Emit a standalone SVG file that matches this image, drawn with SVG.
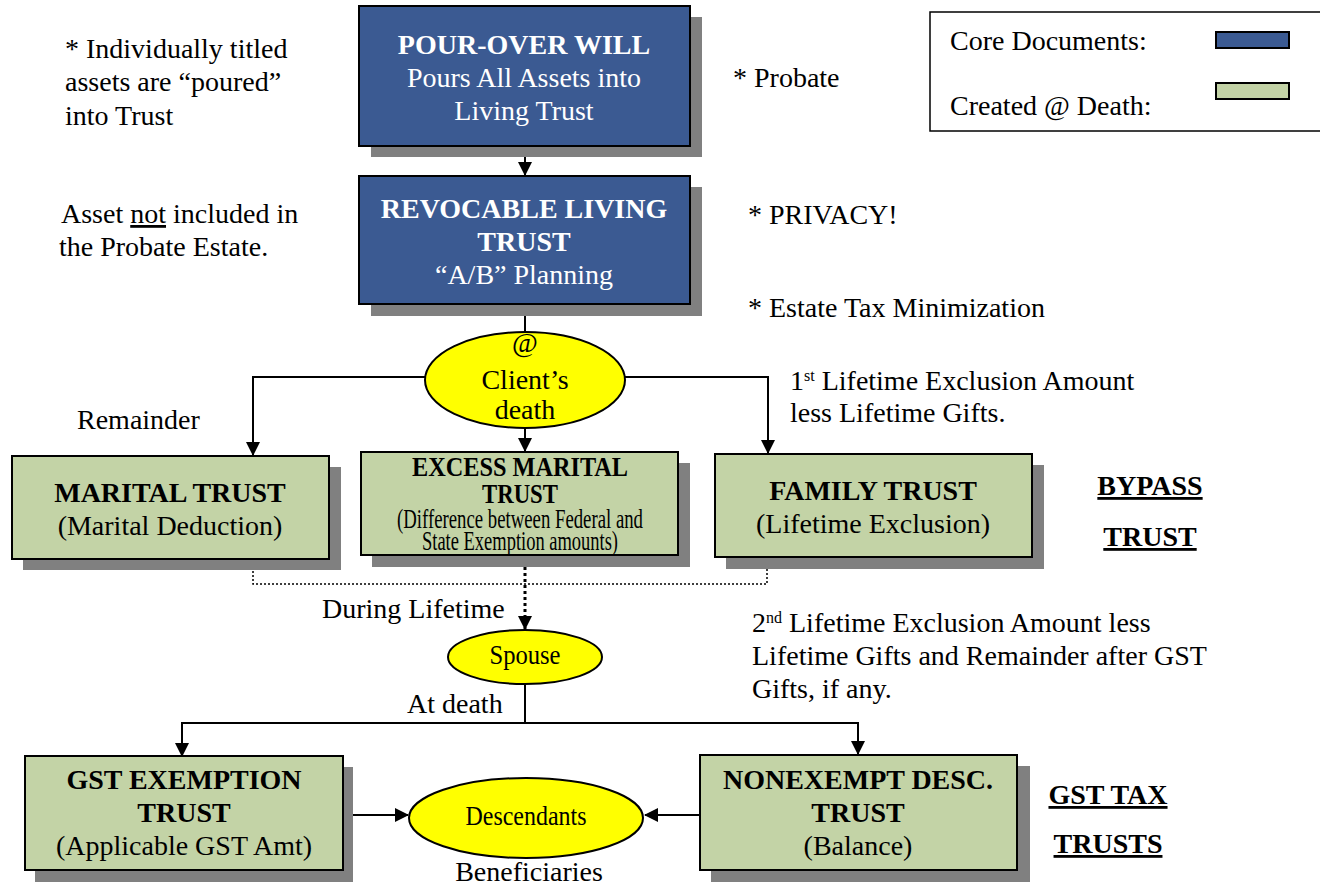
<svg xmlns="http://www.w3.org/2000/svg" width="1320" height="887" viewBox="0 0 1320 887">
<style>
text{font-family:"Liberation Serif","Times New Roman",serif;fill:#000;font-size:28px}
.w{fill:#fff}
.b{font-weight:bold}
.c{text-anchor:middle}
.blue{fill:#3B5A92;stroke:#000;stroke-width:2}
.green{fill:#C3D3A6;stroke:#000;stroke-width:2}
.sh{fill:#808080}
.ell{fill:#FFFF00;stroke:#000;stroke-width:2}
.ln{fill:none;stroke:#000;stroke-width:2}
.dot{fill:none;stroke:#000;stroke-width:1.5;stroke-dasharray:2 2}
</style>
<defs>
<marker id="ahb" markerWidth="14" markerHeight="14" refX="13" refY="7" orient="auto" markerUnits="userSpaceOnUse" viewBox="0 0 14 14">
<path d="M0,0 L14,7 L0,14 z" fill="#000"/>
</marker>
</defs>

<g id="connectors">
<line class="ln" x1="525" y1="146" x2="525" y2="175" marker-end="url(#ahb)"/>
<line class="ln" x1="525" y1="304" x2="525" y2="333"/>
<polyline class="ln" points="425,377 253,377 253,455" marker-end="url(#ahb)"/>
<polyline class="ln" points="625,377 768,377 768,453" marker-end="url(#ahb)"/>
<line class="ln" x1="525" y1="428" x2="525" y2="451" marker-end="url(#ahb)"/>
<polyline class="dot" points="253,559 253,584 767,584 767,557"/>
<line x1="525" y1="555" x2="525" y2="629" stroke="#000" stroke-width="3" stroke-dasharray="3 3" marker-end="url(#ahb)"/>
<line class="ln" x1="525" y1="684" x2="525" y2="723"/>
<polyline class="ln" points="182,723 858,723"/>
<line class="ln" x1="182" y1="722" x2="182" y2="756" marker-end="url(#ahb)"/>
<line class="ln" x1="858" y1="722" x2="858" y2="754" marker-end="url(#ahb)"/>
<line class="ln" x1="343" y1="815" x2="408" y2="815" marker-end="url(#ahb)"/>
<line class="ln" x1="700" y1="815" x2="645" y2="815" marker-end="url(#ahb)"/>
</g>

<g id="pour-over-will">
<rect class="sh" x="371" y="17" width="331" height="140"/>
<rect class="blue" x="359" y="6" width="331" height="140"/>
<text class="w b c" x="524" y="54">POUR-OVER WILL</text>
<text class="w c" x="524" y="87">Pours All Assets into</text>
<text class="w c" x="524" y="120">Living Trust</text>
</g>

<g id="revocable-living-trust">
<rect class="sh" x="371" y="187" width="331" height="129"/>
<rect class="blue" x="359" y="176" width="331" height="128"/>
<text class="w b c" x="524" y="218">REVOCABLE LIVING</text>
<text class="w b c" x="524" y="251">TRUST</text>
<text class="w c" x="524" y="284">“A/B” Planning</text>
</g>

<g id="clients-death">
<ellipse class="ell" cx="525" cy="380" rx="100" ry="48"/>
<text class="c" x="525" y="352" font-size="17">@</text>
<text class="c" x="525" y="389" font-size="26">Client’s</text>
<text class="c" x="525" y="419" font-size="26">death</text>
</g>

<g id="marital-trust">
<rect class="sh" x="23" y="467" width="318" height="103"/>
<rect class="green" x="12" y="456" width="317" height="103"/>
<text class="b c" x="170" y="502">MARITAL TRUST</text>
<text class="c" x="170" y="535">(Marital Deduction)</text>
</g>

<g id="excess-marital-trust">
<rect class="sh" x="372" y="463" width="318" height="104"/>
<rect class="green" x="361" y="452" width="317" height="103"/>
<text class="b c" x="520" y="476" font-size="21" textLength="216" lengthAdjust="spacingAndGlyphs">EXCESS MARITAL</text>
<text class="b c" x="520" y="503" font-size="21" textLength="76" lengthAdjust="spacingAndGlyphs">TRUST</text>
<text class="c" x="520" y="528" font-size="15" textLength="246" lengthAdjust="spacingAndGlyphs">(Difference between Federal and</text>
<text class="c" x="520" y="550" font-size="15" textLength="196" lengthAdjust="spacingAndGlyphs">State Exemption amounts)</text>
</g>

<g id="family-trust">
<rect class="sh" x="726" y="465" width="318" height="104"/>
<rect class="green" x="715" y="454" width="317" height="103"/>
<text class="b c" x="873" y="500">FAMILY TRUST</text>
<text class="c" x="873" y="533">(Lifetime Exclusion)</text>
</g>

<g id="spouse">
<ellipse class="ell" cx="525" cy="657" rx="77" ry="27"/>
<text class="c" x="525" y="664" font-size="20" textLength="71" lengthAdjust="spacingAndGlyphs">Spouse</text>
</g>

<g id="gst-exemption-trust">
<rect class="sh" x="35" y="767" width="318" height="115"/>
<rect class="green" x="25" y="756" width="318" height="114"/>
<text class="b c" x="184" y="789">GST EXEMPTION</text>
<text class="b c" x="184" y="822">TRUST</text>
<text class="c" x="184" y="855">(Applicable GST Amt)</text>
</g>

<g id="descendants">
<ellipse class="ell" cx="526" cy="818" rx="117" ry="40"/>
<text class="c" x="526" y="825" font-size="21" textLength="121" lengthAdjust="spacingAndGlyphs">Descendants</text>
</g>

<g id="nonexempt-desc-trust">
<rect class="sh" x="711" y="766" width="319" height="116"/>
<rect class="green" x="700" y="755" width="317" height="115"/>
<text class="b c" x="858" y="789">NONEXEMPT DESC.</text>
<text class="b c" x="858" y="822">TRUST</text>
<text class="c" x="858" y="855">(Balance)</text>
</g>

<g id="legend">
<rect x="930" y="12" width="400" height="119" fill="#fff" stroke="#000" stroke-width="1.5"/>
<text x="950" y="50" font-size="24">Core Documents:</text>
<text x="950" y="115" font-size="24">Created @ Death:</text>
<rect class="blue" x="1216" y="32" width="73" height="16" stroke-width="1.5"/>
<rect class="green" x="1216" y="83" width="73" height="16" stroke-width="1.5"/>
</g>

<g id="labels">
<text x="65" y="58">* Individually titled</text>
<text x="65" y="91">assets are “poured”</text>
<text x="65" y="125">into Trust</text>
<text x="733" y="87">* Probate</text>
<text x="61" y="223">Asset <tspan text-decoration="underline">not</tspan> included in</text>
<text x="59" y="256">the Probate Estate.</text>
<text x="748" y="224">* PRIVACY!</text>
<text x="748" y="317">* Estate Tax Minimization</text>
<text x="790" y="390">1<tspan font-size="16" dy="-9">st</tspan><tspan dy="9"> Lifetime Exclusion Amount</tspan></text>
<text x="790" y="422">less Lifetime Gifts.</text>
<text x="77" y="429">Remainder</text>
<text class="b c" x="1150" y="495" text-decoration="underline">BYPASS</text>
<text class="b c" x="1150" y="546" text-decoration="underline">TRUST</text>
<text x="322" y="618">During Lifetime</text>
<text x="752" y="632">2<tspan font-size="16" dy="-9">nd</tspan><tspan dy="9"> Lifetime Exclusion Amount less</tspan></text>
<text x="752" y="665">Lifetime Gifts and Remainder after GST</text>
<text x="752" y="698">Gifts, if any.</text>
<text x="407" y="713">At death</text>
<text class="b c" x="1108" y="804" text-decoration="underline">GST TAX</text>
<text class="b c" x="1108" y="853" text-decoration="underline">TRUSTS</text>
<text class="c" x="529" y="881">Beneficiaries</text>
</g>
</svg>
